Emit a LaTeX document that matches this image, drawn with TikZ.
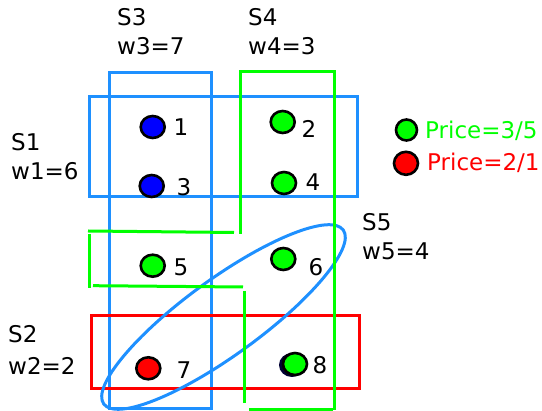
\documentclass[tikz,border=0pt]{standalone}
\usepackage{fontspec}
\setmainfont{DejaVu Sans}
\usetikzlibrary{shapes.geometric}

\definecolor{setblue}{RGB}{30,144,255}
\definecolor{setgreen}{RGB}{0,255,0}
\definecolor{setred}{RGB}{255,0,0}
\definecolor{dotblue}{RGB}{0,0,255}

\tikzset{
  dot/.style={draw, ellipse, line width=2.6pt, minimum width=24pt, minimum height=22pt, inner sep=0pt},
  num/.style={font=\fontsize{23}{27}\selectfont},
  setlabel/.style={anchor=base west, align=left, inner sep=0pt, font=\fontsize{23}{29}\selectfont},
  bluebox/.style={draw=setblue, line width=3pt},
  greenline/.style={draw=setgreen, line width=3pt},
  redbox/.style={draw=setred, line width=3pt}
}

\begin{document}
\begin{tikzpicture}[x=1pt,y=-1pt]
\useasboundingbox (0,0) rectangle (542,411);

% sets
\draw [bluebox] (109,73) rectangle (211,409);
\draw [bluebox] (89,97) rectangle (357,197);
\draw [redbox] (91,316) rectangle (359,389);
\draw [bluebox] (223.5,317) ellipse [x radius=148, y radius=38, rotate=36];

\draw [greenline] (240.5,234) -- (240.5,72) -- (334,72) -- (334,410);
\draw [greenline] (249,410) -- (333,410);
\draw [greenline] (244,291) -- (244,403);
\draw [greenline] (88,231) -- (234,232.5);
\draw [greenline] (89,234) -- (89,288);
\draw [greenline] (93,285.7) -- (243,287);

% elements
\node [dot, fill=dotblue] (v1) at (152.7,127) {};
\node [dot, fill=setgreen] (v2) at (282.7,122) {};
\node [dot, fill=dotblue] (v3) at (151.7,186) {};
\node [dot, fill=setgreen] (v4) at (284,183) {};
\node [dot, fill=setgreen] (v5) at (152.7,265.7) {};
\node [dot, fill=setgreen] (v6) at (283.3,259) {};
\node [dot, fill=setred] (v7) at (148.3,368.3) {};
\fill [black!80!dotblue] (292,365) ellipse [x radius=13, y radius=12];
\node [dot, fill=setgreen] (v8) at (295,364) {};

\node [num] (l1) at (181,127) {1};
\node [num] (l2) at (309,129) {2};
\node [num] (l3) at (184,187) {3};
\node [num] (l4) at (313,182) {4};
\node [num] (l5) at (181,267) {5};
\node [num] (l6) at (316,267) {6};
\node [num] (l7) at (184,370) {7};
\node [num] (l8) at (320,365) {8};

% set names and weights (base is the second line)
\node [setlabel] (s3) at (117,55) {S3\\w3=7};
\node [setlabel] (s4) at (248,55) {S4\\w4=3};
\node [setlabel] (s1) at (11,180) {S1\\w1=6};
\node [setlabel] (s2) at (8,375) {S2\\[3pt]w2=2};
\node [setlabel] (s5) at (362,260) {S5\\w5=4};

% legend
\node [dot, fill=setgreen, minimum width=21pt, minimum height=21pt] (p1) at (406.5,130) {};
\node [dot, fill=setred, minimum width=24pt, minimum height=23pt] (p2) at (406,163.3) {};
\node [num, anchor=west, inner sep=0pt, text=setgreen] (t1) at (425,131) {Price=3/5};
\node [num, anchor=west, inner sep=0pt, text=setred] (t2) at (427,163) {Price=2/1};
\end{tikzpicture}
\end{document}
